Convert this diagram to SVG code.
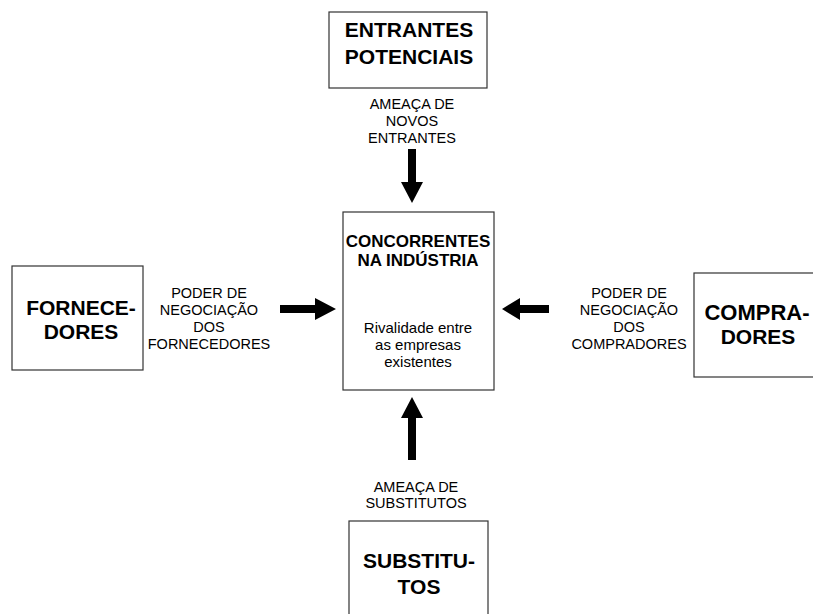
<svg xmlns="http://www.w3.org/2000/svg" width="813" height="614" viewBox="0 0 813 614">
<style>
.box{fill:#fff;stroke:#333;stroke-width:1.2}
.t{font-family:"Liberation Sans",Arial,sans-serif;font-weight:bold;font-size:21px;fill:#000;text-anchor:middle}
.c{font-family:"Liberation Sans",Arial,sans-serif;font-weight:bold;font-size:17px;fill:#000;text-anchor:middle}
.l{font-family:"Liberation Sans",Arial,sans-serif;font-size:14.5px;fill:#000;text-anchor:middle}
.r{font-family:"Liberation Sans",Arial,sans-serif;font-size:15px;fill:#000;text-anchor:middle}
.a{fill:#000}
</style>
<rect width="813" height="614" fill="#fff"/>
<g id="entrantes">
<rect class="box" x="329" y="12" width="158" height="76"/>
<text class="t" x="409" y="37">ENTRANTES</text>
<text class="t" x="409" y="64">POTENCIAIS</text>
</g>
<g id="concorrentes">
<rect class="box" x="343" y="212" width="151" height="178"/>
<text class="c" x="418" y="247">CONCORRENTES</text>
<text class="c" x="418" y="266">NA INDÚSTRIA</text>
<text class="r" x="418" y="333">Rivalidade entre</text>
<text class="r" x="418" y="350">as empresas</text>
<text class="r" x="418" y="367">existentes</text>
</g>
<g id="fornecedores">
<rect class="box" x="12" y="266" width="131" height="104"/>
<text class="t" x="81" y="315">FORNECE-</text>
<text class="t" x="81" y="339">DORES</text>
</g>
<g id="compradores">
<rect class="box" x="694" y="273" width="130" height="104"/>
<text class="t" x="757" y="320" style="font-size:22px">COMPRA-</text>
<text class="t" x="758" y="344">DORES</text>
</g>
<g id="substitutos">
<rect class="box" x="349" y="521" width="139" height="100"/>
<text class="t" x="419" y="568">SUBSTITU-</text>
<text class="t" x="419" y="594">TOS</text>
</g>
<g id="connectors">
<polygon class="a" points="408,149 416,149 416,182 423,182 412,203 401,182 408,182"/>
<polygon class="a" points="408,460 416,460 416,418 423,418 412,397 401,418 408,418"/>
<polygon class="a" points="280,305 315,305 315,298 336,309 315,320 315,313 280,313"/>
<polygon class="a" points="549,305 520,305 520,298 502,309 520,320 520,313 549,313"/>
<text class="l" x="412" y="109">AMEAÇA DE</text>
<text class="l" x="412" y="126">NOVOS</text>
<text class="l" x="412" y="143">ENTRANTES</text>
<text class="l" x="209" y="298">PODER DE</text>
<text class="l" x="209" y="315">NEGOCIAÇÃO</text>
<text class="l" x="209" y="332">DOS</text>
<text class="l" x="209" y="349">FORNECEDORES</text>
<text class="l" x="629" y="298">PODER DE</text>
<text class="l" x="629" y="315">NEGOCIAÇÃO</text>
<text class="l" x="629" y="332">DOS</text>
<text class="l" x="629" y="349">COMPRADORES</text>
<text class="l" x="416" y="492">AMEAÇA DE</text>
<text class="l" x="416" y="508">SUBSTITUTOS</text>
</g>
</svg>
